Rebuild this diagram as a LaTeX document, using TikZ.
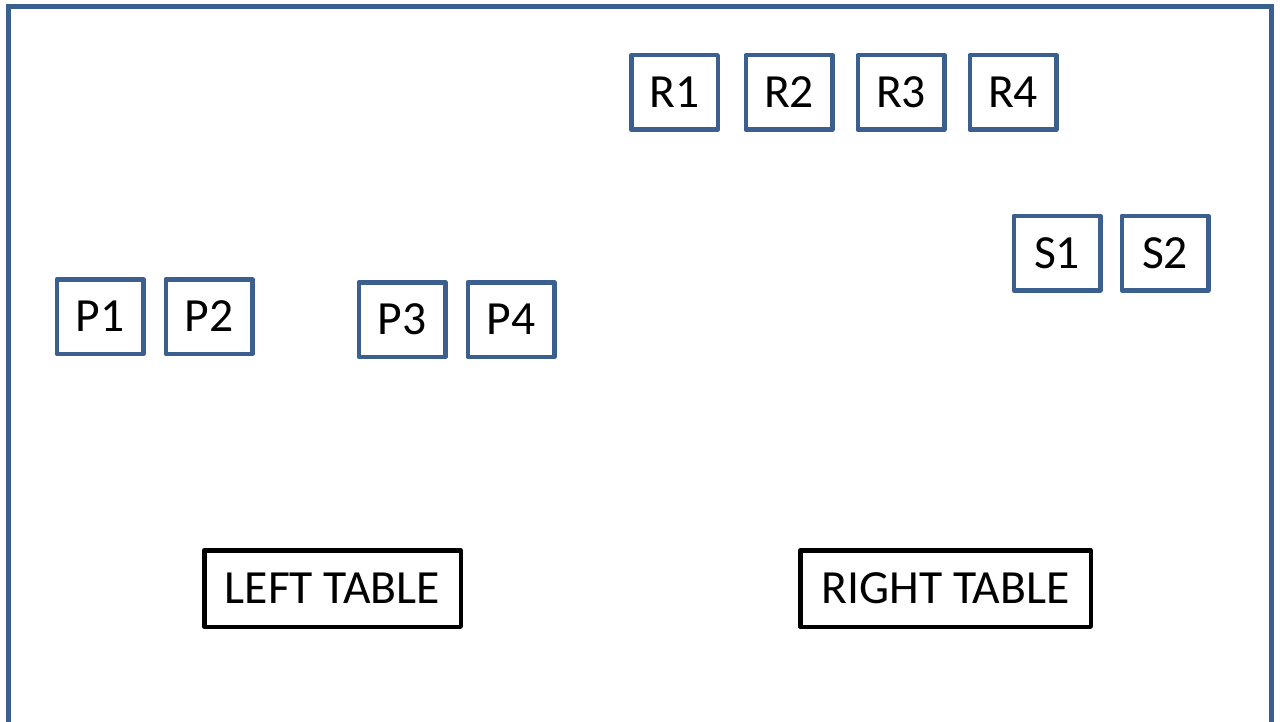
\documentclass[tikz,border=0pt]{standalone}
\usepackage{fontspec}
\setmainfont{Carlito}
\usepackage{tikz}
\usetikzlibrary{positioning}

\definecolor{frameblue}{HTML}{3B5F8E}

\tikzset{
  seat/.style={draw=frameblue, line width=2.25pt, line join=round, fill=white,
    minimum width=43.25pt, minimum height=37.25pt, inner sep=0pt, font=\fontsize{23.8}{26}\selectfont},
  tablebox/.style={draw=black, line width=2.25pt, line join=round,
    minimum height=38.25pt, inner sep=0pt, font=\fontsize{23.8}{26}\selectfont},
}

\begin{document}
\begin{tikzpicture}[x=0.5pt,y=-0.5pt]
\useasboundingbox (0,0) rectangle (1280,722);
% room outline, open at the bottom
\draw[frameblue, line width=2.5pt] (8.5,740) -- (8.5,6.5) -- (1271,6.5) -- (1271,740);
% back row
\node[seat] (r1) at (674.5,92.5) {R1};
\node[seat] (r2) at (789,92.5) {R2};
\node[seat] (r3) at (901,92.5) {R3};
\node[seat] (r4) at (1013,92.5) {R4};
% right side
\node[seat] (s1) at (1057,253) {S1};
\node[seat] (s2) at (1165,253) {S2};
% left side
\node[seat] (p1) at (100,316.5) {P1};
\node[seat] (p2) at (209,316.5) {P2};
\node[seat] (p3) at (402,319.5) {P3};
\node[seat] (p4) at (511,319.5) {P4};
% tables
\node[tablebox, minimum width=128.25pt] (lefttable) at (332.5,588.5) {LEFT TABLE};
\node[tablebox, minimum width=145.25pt] (righttable) at (945.5,588.5) {RIGHT TABLE};
\end{tikzpicture}
\end{document}
